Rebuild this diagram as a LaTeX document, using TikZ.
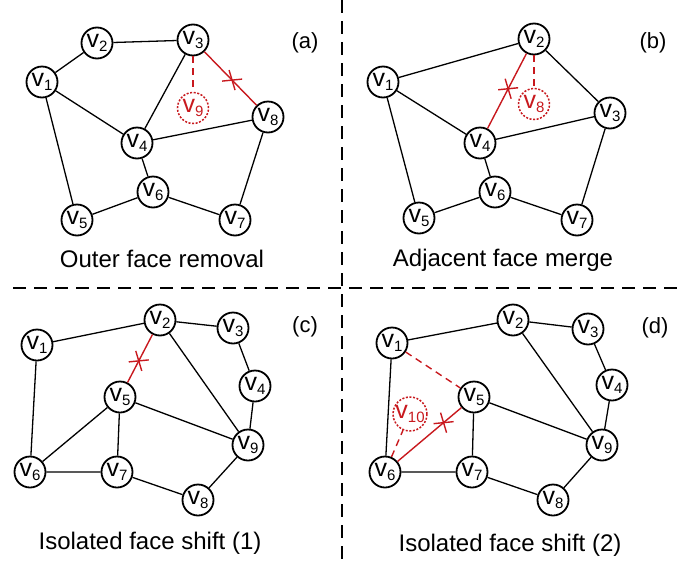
\documentclass[tikz,border=0pt]{standalone}
\usepackage{fontspec}
\setmainfont{Liberation Sans}
\definecolor{myred}{RGB}{200,25,30}
\newcommand{\vlab}[1]{v\raisebox{-4pt}{\fontsize{15}{15}\selectfont #1}}
\newcommand{\crossmark}[1]{\draw[myred,line width=1.4pt] (#1) ++(-10,1) -- ++(20,-2) (#1) ++(-3,-10) -- ++(6,20);}
\begin{document}
\begin{tikzpicture}[x=1pt,y=-1pt,
  vtx/.style={circle,draw,line width=1.8pt,minimum size=31pt,inner sep=0pt,fill=white,font=\fontsize{25}{25}\selectfont},
  gvtx/.style={vtx,draw=myred,text=myred,line width=1.5pt,dash pattern=on 2pt off 1.6pt},
  ed/.style={line width=1.3pt},
  redge/.style={myred,line width=1.4pt},
  rdash/.style={myred,line width=1.4pt,dash pattern=on 7pt off 5pt},
  captxt/.style={font=\fontsize{24}{24}\selectfont},
  plabel/.style={font=\fontsize{22}{22}\selectfont},
  divider/.style={line width=1.3pt,dash pattern=on 13pt off 8pt}]
\useasboundingbox (0,0) rectangle (681,563);
% dividers
\coordinate (dvt) at (342,0);
\coordinate (dvb) at (342,563);
\coordinate (dhl) at (13,288);
\coordinate (dhr) at (681,288);
\draw[divider] (dvt) -- (dvb);
\draw[divider] (dhl) -- (dhr);

% ---------- (a) ----------
\node[vtx] (a1) at (42,82) {\vlab{1}};
\node[vtx] (a2) at (97,43) {\vlab{2}};
\node[vtx] (a3) at (193,40) {\vlab{3}};
\node[vtx] (a4) at (137,143) {\vlab{4}};
\node[vtx] (a5) at (77,220) {\vlab{5}};
\node[vtx] (a6) at (153,192) {\vlab{6}};
\node[vtx] (a7) at (235,220) {\vlab{7}};
\node[vtx] (a8) at (268,117) {\vlab{8}};
\node[gvtx] (a9) at (193,108) {\vlab{9}};
\draw[ed] (a1) -- (a2) (a2) -- (a3) (a3) -- (a4) (a1) -- (a4) (a1) -- (a5)
  (a4) -- (a8) (a4) -- (a6) (a5) -- (a6) (a6) -- (a7) (a7) -- (a8);
\draw[redge] (a3) -- coordinate[pos=0.53] (xa) (a8);
\draw[rdash] (a3) -- (a9);
\crossmark{xa}
\node[plabel] (la) at (305,43) {(a)};
\node[captxt] (ca) at (162,259) {Outer face removal};

% ---------- (b) ----------
\node[vtx] (b1) at (383,82) {\vlab{1}};
\node[vtx] (b2) at (534,39) {\vlab{2}};
\node[vtx] (b3) at (610,113) {\vlab{3}};
\node[vtx] (b4) at (480,143) {\vlab{4}};
\node[vtx] (b5) at (419,218) {\vlab{5}};
\node[vtx] (b6) at (495,192) {\vlab{6}};
\node[vtx] (b7) at (577,220) {\vlab{7}};
\node[gvtx] (b8) at (534,104) {\vlab{8}};
\draw[ed] (b1) -- (b2) (b2) -- (b3) (b1) -- (b4) (b1) -- (b5) (b4) -- (b3)
  (b4) -- (b6) (b5) -- (b6) (b6) -- (b7) (b7) -- (b3);
\draw[redge] (b2) -- coordinate[pos=0.47] (xb) (b4);
\draw[rdash] (b2) -- (b8);
\crossmark{xb}
\node[plabel] (lb) at (653,43) {(b)};
\node[captxt] (cb) at (503,260) {Adjacent face merge};

% ---------- (c) ----------
\node[vtx] (c1) at (37,345) {\vlab{1}};
\node[vtx] (c2) at (160,320) {\vlab{2}};
\node[vtx] (c3) at (233,328) {\vlab{3}};
\node[vtx] (c4) at (255,386) {\vlab{4}};
\node[vtx] (c5) at (120,397) {\vlab{5}};
\node[vtx] (c6) at (30,472) {\vlab{6}};
\node[vtx] (c7) at (117,472) {\vlab{7}};
\node[vtx] (c8) at (198,500) {\vlab{8}};
\node[vtx] (c9) at (248,445) {\vlab{9}};
\draw[ed] (c1) -- (c2) (c2) -- (c3) (c3) -- (c4) (c4) -- (c9) (c2) -- (c9)
  (c5) -- (c9) (c1) -- (c6) (c6) -- (c5) (c5) -- (c7) (c6) -- (c7)
  (c7) -- (c8) (c8) -- (c9);
\draw[redge] (c2) -- coordinate[pos=0.55] (xc) (c5);
\crossmark{xc}
\node[plabel] (lc) at (305,327) {(c)};
\node[captxt] (cc) at (150,543) {Isolated face shift (1)};

% ---------- (d) ----------
\node[vtx] (d1) at (392,343) {\vlab{1}};
\node[vtx] (d2) at (513,320) {\vlab{2}};
\node[vtx] (d3) at (588,329) {\vlab{3}};
\node[vtx] (d4) at (612,385) {\vlab{4}};
\node[vtx] (d5) at (474,397) {\vlab{5}};
\node[vtx] (d6) at (385,472) {\vlab{6}};
\node[vtx] (d7) at (472,472) {\vlab{7}};
\node[vtx] (d8) at (553,500) {\vlab{8}};
\node[vtx] (d9) at (602,445) {\vlab{9}};
\node[gvtx] (d10) at (410,414) {\vlab{10}};
\draw[ed] (d1) -- (d2) (d2) -- (d3) (d3) -- (d4) (d4) -- (d9) (d2) -- (d9)
  (d5) -- (d9) (d1) -- (d6) (d6) -- (d7) (d5) -- (d7) (d7) -- (d8) (d8) -- (d9);
\draw[rdash] (d1) -- (d5);
\draw[rdash] (d6) -- (d10);
\draw[redge] (d6) -- coordinate[pos=0.72] (xd) (d5);
\crossmark{xd}
\node[plabel] (ld) at (655,328) {(d)};
\node[captxt] (cd) at (510,545) {Isolated face shift (2)};
\end{tikzpicture}
\end{document}
